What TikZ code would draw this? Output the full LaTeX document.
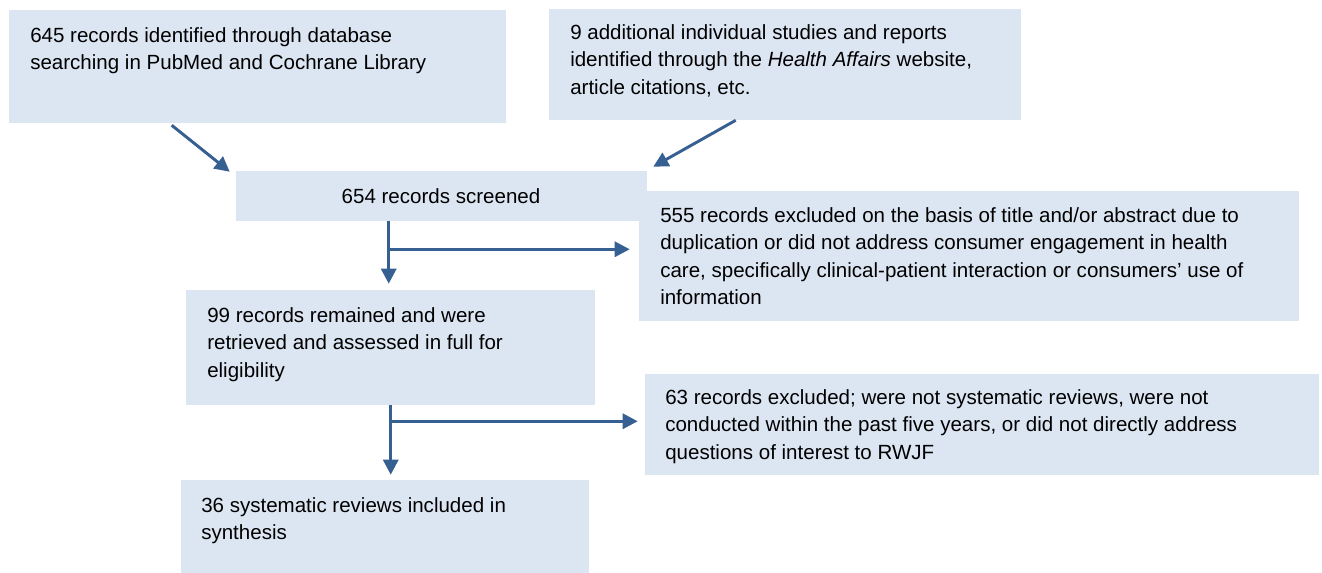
\documentclass[tikz,border=0pt]{standalone}
\usepackage{fontspec}
\setmainfont{Liberation Sans}
\usetikzlibrary{fit,calc,arrows.meta}
\definecolor{boxfill}{HTML}{DCE6F2}
\definecolor{arrowcol}{HTML}{376092}
\tikzset{
  box/.style={fill=boxfill, draw=none, inner sep=0pt},
  txt/.style={anchor=north west, inner sep=0pt, align=left, text=black,
    font=\fontsize{15.4pt}{20.6pt}\selectfont},
  arr/.style={draw=arrowcol, line width=2.2pt,
    -{Triangle[length=11.25pt,width=11.25pt]}},
  seg/.style={draw=arrowcol, line width=2.2pt},
}
\begin{document}
\begin{tikzpicture}[x=0.75pt,y=-0.75pt]
\useasboundingbox (0,0) rectangle (1322,573);
% boxes
\node[box, fit={(9,10)(506,123)}] (b1) {};
\node[box, fit={(549,9)(1021,120)}] (b2) {};
\node[box, fit={(236,171)(647,221)}] (b3) {};
\node[box, fit={(639,191)(1299,321)}] (b4) {};
\node[box, fit={(186,290)(595,405)}] (b5) {};
\node[box, fit={(645,374)(1319,475)}] (b6) {};
\node[box, fit={(181,480)(589,573)}] (b7) {};
% texts
\node[txt] (t1) at (30,27) {645 records identified through database\\searching in PubMed and Cochrane Library};
\node[txt] (t2) at (570,24) {9 additional individual studies and reports\\identified through the \textit{Health Affairs} website,\\article citations, etc.};
\node[txt, anchor=north] (t3) at (441,188) {654 records screened};
\node[txt] (t4) at (660,207) {555 records excluded on the basis of title and/or abstract due to\\duplication or did not address consumer engagement in health\\care, specifically clinical-patient interaction or consumers’ use of\\information};
\node[txt] (t5) at (207,307) {99 records remained and were\\retrieved and assessed in full for\\eligibility};
\node[txt] (t6) at (665,389) {63 records excluded; were not systematic reviews, were not\\conducted within the past five years, or did not directly address\\questions of interest to RWJF};
\node[txt] (t7) at (201,497) {36 systematic reviews included in\\synthesis};
% connector points
\coordinate (a1s) at ($(b1.south west)+(163,2)$);
\coordinate (a1e) at ($(b3.north west)+(-6,1)$);
\coordinate (a2s) at ($(b2.south west)+(187,0)$);
\coordinate (a2e) at ($(b3.north east)+(6,-4)$);
\coordinate (v1s) at ($(b3.south west)+(153,0)$);
\coordinate (v1e) at ($(b5.north west)+(203,-6)$);
\coordinate (h1s) at ($(v1s)+(0,28)$);
\coordinate (h1e) at ($(b4.west |- h1s)+(-9,0)$);
\coordinate (v2s) at ($(b5.south west)+(205,0)$);
\coordinate (v2e) at ($(b7.north west)+(210,-5)$);
\coordinate (h2s) at ($(v2s)+(0,16)$);
\coordinate (h2e) at ($(b6.west |- h2s)+(-7,0)$);
% connectors
\draw[arr] (a1s) -- (a1e);
\draw[arr] (a2s) -- (a2e);
\draw[arr] (v1s) -- (v1e);
\draw[arr] (h1s) -- (h1e);
\draw[arr] (v2s) -- (v2e);
\draw[arr] (h2s) -- (h2e);
\end{tikzpicture}
\end{document}
